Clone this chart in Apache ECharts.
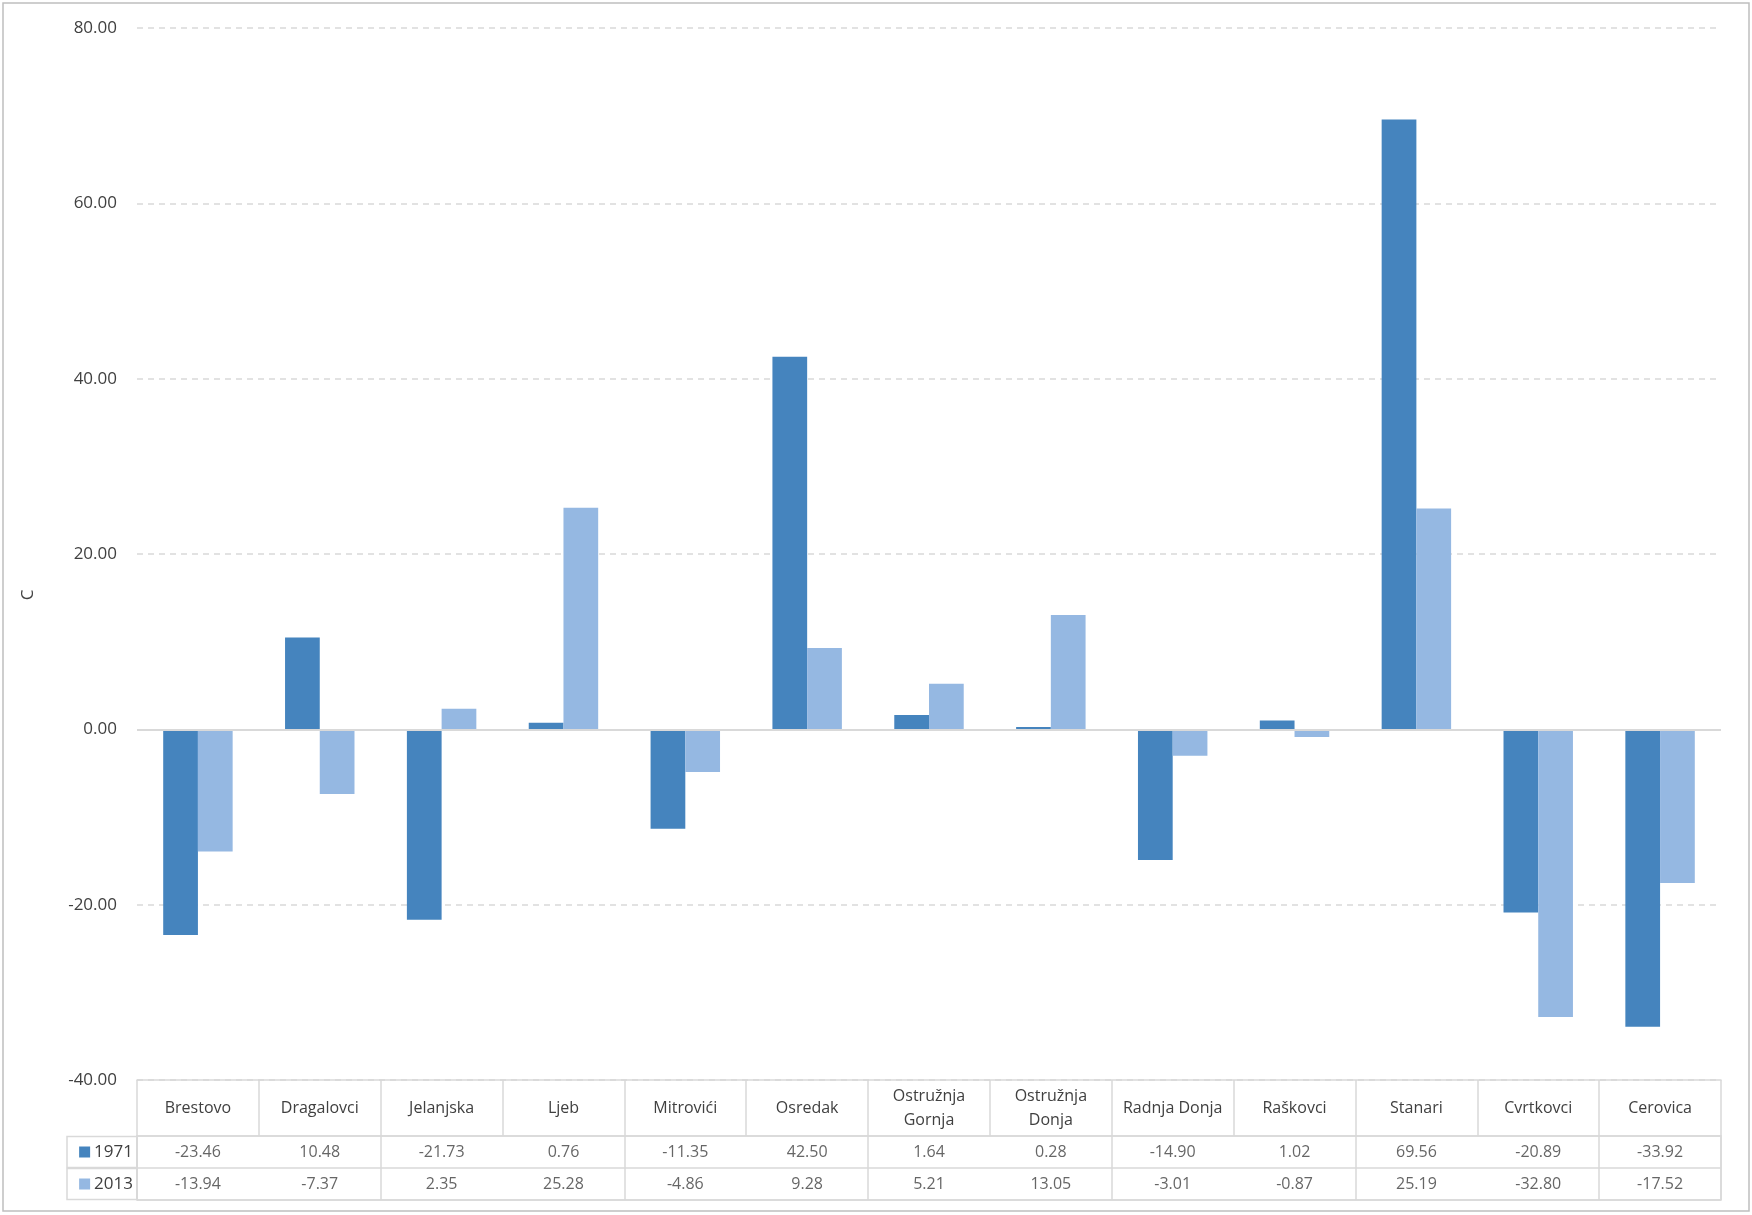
<!DOCTYPE html>
<html>
<head>
<meta charset="utf-8">
<script src="https://cdn.jsdelivr.net/npm/echarts@6/dist/echarts.min.js"></script>
<style>
html,body{margin:0;padding:0;background:#fff;}
#chart{width:1752px;height:1215px;}
</style>
</head>
<body>
<div id="chart"></div>
<script>
const categories = ['Brestovo','Dragalovci','Jelanjska','Ljeb','Mitrovići','Osredak','Ostružnja Gornja','Ostružnja Donja','Radnja Donja','Raškovci','Stanari','Cvrtkovci','Cerovica'];
const seriesNames = ['1971','2013'];
const values1971 = [-23.46,10.48,-21.73,0.76,-11.35,42.50,1.64,0.28,-14.90,1.02,69.56,-20.89,-33.92];
const values2013 = [-13.94,-7.37,2.35,25.28,-4.86,9.28,5.21,13.05,-3.01,-0.87,25.19,-32.80,-17.52];
const yTicks = {min:-40, max:80, interval:20};
const axisTitle = 'C';

const colors = ['#4584BE','#95B8E2'];
const font = 'Open Sans';
const textColor = '#404040';
const lineGrey = '#D9D9D9';

const chart = echarts.init(document.getElementById('chart'), null, {renderer:'canvas'});

const tableData = [values1971, values2013];
const cellSeries = tableData.map((vals, r) => ({
  type:'scatter', xAxisIndex:1, yAxisIndex:1, silent:true,
  symbolSize:1, itemStyle:{color:'rgba(0,0,0,0)'},
  data: vals.map((v,i)=>[i, r, v]),
  label:{show:true, position:'inside', formatter:p=>p.value[2].toFixed(2),
    fontFamily:font, fontSize:16, color:textColor}
}));

chart.setOption({
  animation:false,
  textStyle:{fontFamily:font},
  graphic:[{type:'rect', shape:{x:3,y:3,width:1746,height:1208},
    style:{fill:'none', stroke:'#BFBFBF', lineWidth:1.5}, silent:true}],
  grid:[
    {left:137, right:31, top:28, bottom:135},
    {left:137, right:31, top:1136, height:64, show:true, borderColor:lineGrey, borderWidth:1.5}
  ],
  xAxis:[
    {type:'category', gridIndex:0, data:categories,
      axisLine:{onZero:false, lineStyle:{color:lineGrey, width:1.5}},
      axisTick:{show:true, length:56, inside:false, lineStyle:{color:lineGrey, width:1.5}},
      axisLabel:{margin:28, verticalAlign:'middle', fontFamily:font, fontSize:16, color:textColor,
        lineHeight:24, interval:0,
        formatter:v=>v.replace('Ostružnja ','Ostružnja\n')},
      splitLine:{show:false}},
    {type:'category', gridIndex:1, data:categories,
      axisLine:{show:false}, axisTick:{show:false}, axisLabel:{show:false},
      splitLine:{show:true, lineStyle:{color:lineGrey, width:1.5}}}
  ],
  yAxis:[
    {type:'value', gridIndex:0, min:yTicks.min, max:yTicks.max, interval:yTicks.interval,
      axisLine:{show:false}, axisTick:{show:false},
      axisLabel:{formatter:v=>v.toFixed(2), fontFamily:font, fontSize:17, color:textColor, margin:20},
      splitLine:{show:true, lineStyle:{color:lineGrey, width:1.5, type:[6,5]}},
      name:axisTitle, nameLocation:'middle', nameGap:100, nameRotate:90,
      nameTextStyle:{fontFamily:font, fontSize:17, color:textColor, padding:[0,82,0,0]}},
    {type:'category', gridIndex:1, data:seriesNames, inverse:true,
      axisLine:{show:false}, axisTick:{show:false},
      splitLine:{show:true, interval:0, lineStyle:{color:lineGrey, width:1.5}},
      axisLabel:{interval:0, showMinLabel:true, showMaxLabel:true, hideOverlap:false,
        margin:0, align:'right', width:58, height:31, lineHeight:31,
        padding:[0,4,0,8], borderColor:lineGrey, borderWidth:1.5,
        formatter:(v,i)=>`{m${i}|}{t|${v}}`,
        rich:{
          m0:{width:11,height:11,backgroundColor:colors[0]},
          m1:{width:11,height:11,backgroundColor:colors[1]},
          t:{fontFamily:font, fontSize:17, color:textColor, padding:[0,0,0,4]}
        }}}
  ],
  series:[
    {name:seriesNames[0], type:'bar', data:values1971, itemStyle:{color:colors[0]},
      barGap:'0%', barCategoryGap:'43%',
      markLine:{silent:true, symbol:'none', label:{show:false},
        lineStyle:{color:lineGrey, width:2, type:'solid'}, data:[{yAxis:0}]}},
    {name:seriesNames[1], type:'bar', data:values2013, itemStyle:{color:colors[1]},
      barGap:'0%', barCategoryGap:'43%'},
    ...cellSeries
  ]
});
</script>
</body>
</html>
